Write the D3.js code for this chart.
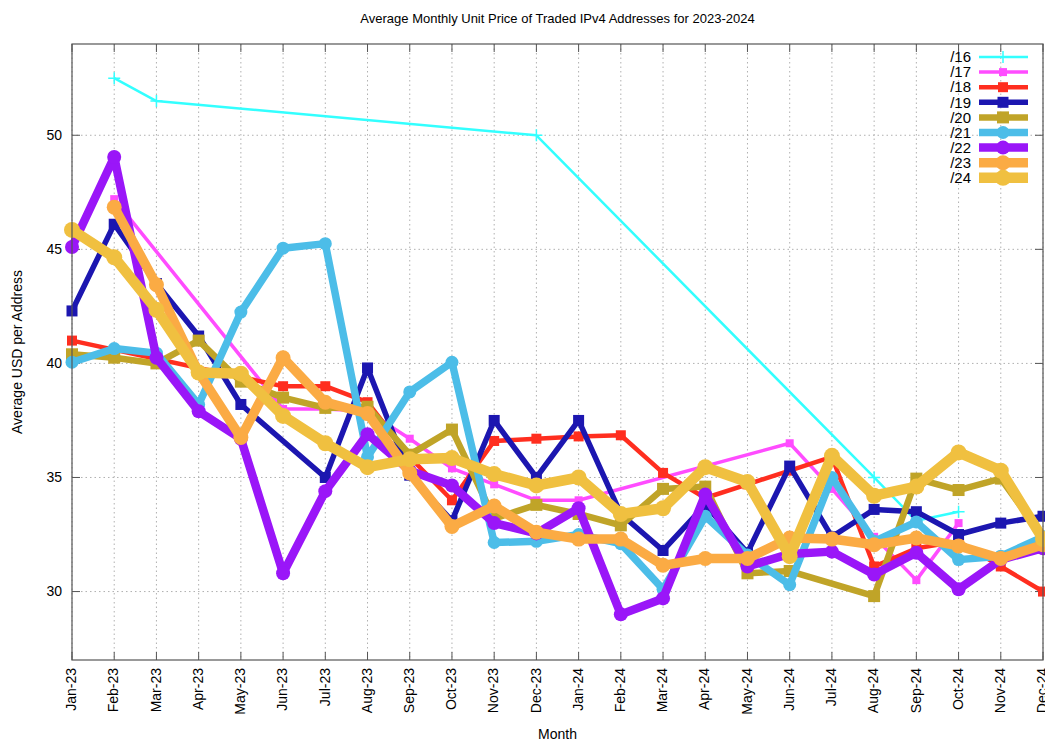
<!DOCTYPE html>
<html>
<head>
<meta charset="utf-8">
<script src="https://cdn.jsdelivr.net/npm/d3@7"></script>
<style>
  body { margin: 0; background: #fff; }
  svg { font-family: "Liberation Sans", Arial, sans-serif; }
  .grid line { stroke: #b0b0b0; stroke-dasharray: 1.5,3; }
  .tickmark { stroke: #555; stroke-width: 1; }
</style>
</head>
<body>
<div class="chart"></div>
<script>
var months = ["Jan-23","Feb-23","Mar-23","Apr-23","May-23","Jun-23","Jul-23","Aug-23","Sep-23","Oct-23","Nov-23","Dec-23",
              "Jan-24","Feb-24","Mar-24","Apr-24","May-24","Jun-24","Jul-24","Aug-24","Sep-24","Oct-24","Nov-24","Dec-24"];
var yTicks = [30, 35, 40, 45, 50];
var prefixes = ["/16","/17","/18","/19","/20","/21","/22","/23","/24"];

// null = no trade reported that month
var p16 = [null,52.5,51.5,null,null,null,null,null,null,null,null,50.0,null,null,null,null,null,null,null,35.0,33.1,33.5,null,null];
var p17 = [null,47.2,null,null,null,38.0,38.0,37.9,36.7,35.4,34.7,34.0,34.0,null,null,null,null,36.5,34.5,32.4,30.5,33.0,null,null];
var p18 = [41.0,null,null,null,null,39.0,39.0,38.3,35.9,34.0,36.6,36.7,36.8,36.85,35.2,34.1,34.7,35.3,35.9,31.1,31.9,32.2,31.1,30.0];
var p19 = [42.3,46.1,43.5,41.2,38.2,null,35.0,39.8,35.1,33.1,37.5,35.0,37.5,33.4,31.8,33.8,31.7,35.5,32.4,33.6,33.5,32.5,33.0,33.3];
var p20 = [40.4,40.25,40.0,41.0,39.2,38.5,38.05,38.1,36.0,37.1,33.2,33.8,33.4,32.9,34.5,34.6,30.8,30.9,null,29.8,34.95,34.45,34.95,32.4];
var p21 = [40.05,40.65,40.45,38.2,42.25,45.05,45.25,35.9,38.75,40.05,32.15,32.2,32.5,32.1,30.1,33.3,31.6,30.3,35.0,32.2,33.05,31.4,31.55,32.4];
var p22 = [45.1,49.05,40.25,37.9,36.7,30.8,34.4,36.9,35.3,34.65,33.0,32.55,33.65,29.0,29.7,34.25,31.1,31.65,31.75,30.75,31.7,30.1,31.4,31.9];
var p23 = [null,46.85,43.45,39.6,36.75,40.25,38.3,37.8,35.2,32.85,33.75,32.6,32.3,32.3,31.15,31.45,31.45,32.35,32.3,32.05,32.35,32.0,31.45,32.05];
var p24 = [45.85,44.65,42.35,39.6,39.55,37.7,36.5,35.45,35.8,35.85,35.15,34.65,35.0,33.4,33.65,35.45,34.8,31.55,35.95,34.2,34.6,36.1,35.3,32.3];

var seriesValues = [p16, p17, p18, p19, p20, p21, p22, p23, p24];
var colors = ["#33ffff","#ff4cff","#ff2e1f","#1c16b0","#c0a428","#4cbde8","#9a16f8","#fbab44","#f0c040"];
var widths = [2.5, 3.5, 4.5, 5.5, 6.5, 7.5, 8.5, 9.5, 10.5];
var shapes = ["plus","square","square","square","square","circle","circle","circle","circle"];
var msize = [6, 8, 10, 11, 12, 13, 14, 15, 16];

var W = 1045, H = 743;
var pLeft = 72, pRight = 1043, pTop = 44, pBottom = 660;

var svg = d3.select('.chart').append('svg')
  .attr('width', W)
  .attr('height', H);

var x = d3.scalePoint().domain(months).range([pLeft, pRight]);
var y = d3.scaleLinear().domain([27, 54]).range([pBottom, pTop]);

// grid
var grid = svg.append('g').attr('class', 'grid');
grid.selectAll('.vgrid')
  .data(months).enter().append('line')
  .attr('x1', function(d){ return x(d) })
  .attr('x2', function(d){ return x(d) })
  .attr('y1', pTop)
  .attr('y2', pBottom);
grid.selectAll('.hgrid')
  .data(yTicks).enter().append('line')
  .attr('x1', pLeft)
  .attr('x2', pRight)
  .attr('y1', function(d){ return y(d) })
  .attr('y2', function(d){ return y(d) });

// tick marks on all four sides (mirrored)
var ticks = svg.append('g');
ticks.selectAll('.xt')
  .data(months).enter().append('path')
  .attr('class', 'tickmark')
  .attr('d', function(d){
    var xx = x(d);
    return "M" + xx + "," + pBottom + "V" + (pBottom - 8) + "M" + xx + "," + pTop + "V" + (pTop + 8);
  });
ticks.selectAll('.yt')
  .data(yTicks).enter().append('path')
  .attr('class', 'tickmark')
  .attr('d', function(d){
    var yy = y(d);
    return "M" + pLeft + "," + yy + "H" + (pLeft + 8) + "M" + pRight + "," + yy + "H" + (pRight - 8);
  });

// tick labels
svg.selectAll('.ylab')
  .data(yTicks).enter().append('text')
  .attr('x', 62)
  .attr('y', function(d){ return y(d) })
  .attr('dy', '0.35em')
  .attr('text-anchor', 'end')
  .attr('font-size', '14px')
  .text(function(d){ return d });

svg.selectAll('.xlab')
  .data(months).enter().append('text')
  .attr('transform', function(d){ return "translate(" + x(d) + ",668) rotate(-90)" })
  .attr('dy', '0.3em')
  .attr('text-anchor', 'end')
  .attr('font-size', '14px')
  .text(function(d){ return d });

// series
var line = d3.line()
  .x(function(d){ return x(d.m) })
  .y(function(d){ return y(d.v) });

function marker(g, shape, s, color, w) {
  if (shape === "plus") {
    g.append('path')
      .attr('d', "M" + (-s) + ",0H" + s + "M0," + (-s) + "V" + s)
      .attr('stroke', color).attr('stroke-width', w).attr('fill', 'none');
  } else if (shape === "square") {
    g.append('rect')
      .attr('x', -s / 2).attr('y', -s / 2)
      .attr('width', s).attr('height', s)
      .attr('fill', color);
  } else {
    g.append('circle').attr('r', s / 2).attr('fill', color);
  }
}

var plot = svg.append('g');
seriesValues.forEach(function(vals, k){
  var pts = [];
  vals.forEach(function(v, i){ if (v !== null) pts.push({m: months[i], v: v}) });

  plot.append('path')
    .datum(pts)
    .attr('d', line)
    .attr('fill', 'none')
    .attr('stroke', colors[k])
    .attr('stroke-width', widths[k])
    .attr('stroke-linejoin', 'round');

  pts.forEach(function(p){
    var g = plot.append('g').attr('transform', "translate(" + x(p.m) + "," + y(p.v) + ")");
    marker(g, shapes[k], msize[k], colors[k], 1.5);
  });
});

// border
svg.append('rect')
  .attr('x', pLeft).attr('y', pTop)
  .attr('width', pRight - pLeft).attr('height', pBottom - pTop)
  .attr('fill', 'none')
  .attr('stroke', '#555')
  .attr('stroke-width', 1.2);

// legend
var legend = svg.append('g');
prefixes.forEach(function(p, k){
  var ly = 57 + k * 15.1;
  legend.append('text')
    .attr('x', 971).attr('y', ly)
    .attr('dy', '0.35em')
    .attr('text-anchor', 'end')
    .attr('font-size', '15px')
    .text(p);
  legend.append('line')
    .attr('x1', 979).attr('x2', 1028)
    .attr('y1', ly).attr('y2', ly)
    .attr('stroke', colors[k])
    .attr('stroke-width', widths[k]);
  var g = legend.append('g').attr('transform', "translate(1003," + ly + ")");
  marker(g, shapes[k], msize[k], colors[k], 1.5);
});

// titles
svg.append('text')
  .attr('x', (pLeft + pRight) / 2).attr('y', 23)
  .attr('text-anchor', 'middle')
  .attr('font-size', '13px')
  .text("Average Monthly Unit Price of Traded IPv4 Addresses for 2023-2024");

svg.append('text')
  .attr('transform', "translate(22," + ((pTop + pBottom) / 2) + ") rotate(-90)")
  .attr('text-anchor', 'middle')
  .attr('font-size', '14px')
  .text("Average USD per Address");

svg.append('text')
  .attr('x', (pLeft + pRight) / 2).attr('y', 739)
  .attr('text-anchor', 'middle')
  .attr('font-size', '14px')
  .text("Month");
</script>
</body>
</html>
